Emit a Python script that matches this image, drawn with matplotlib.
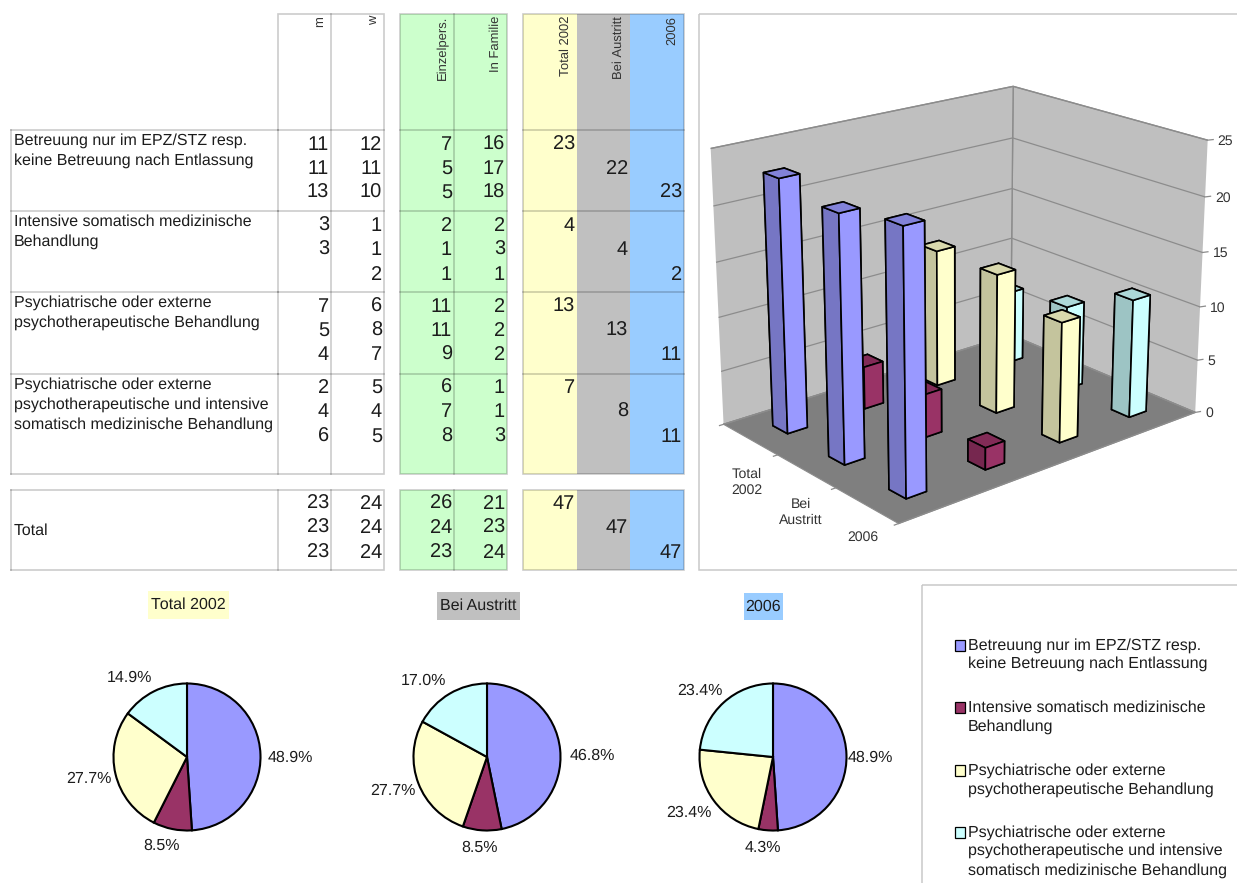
import matplotlib
matplotlib.use('Agg')
import matplotlib.pyplot as plt
from matplotlib.patches import Rectangle
from mpl_toolkits.mplot3d import proj3d
import numpy as np

plt.rcParams['font.family'] = ['Liberation Sans', 'DejaVu Sans']
plt.rcParams['grid.color'] = '#8c8c8c'
plt.rcParams['grid.linewidth'] = 0.9
plt.rcParams['text.hinting'] = 'none'
plt.rcParams['text.hinting_factor'] = 1

W, H = 1237, 883

# Daten
kategorien = ['Betreuung nur im EPZ/STZ resp.\nkeine Betreuung nach Entlassung',
              'Intensive somatisch medizinische\nBehandlung',
              'Psychiatrische oder externe\npsychotherapeutische Behandlung',
              'Psychiatrische oder externe\npsychotherapeutische und intensive\nsomatisch medizinische Behandlung']
spalten = ['m', 'w', 'Einzelpers.', 'In Familie', 'Total 2002', 'Bei Austritt', '2006']
jahre = ['Total 2002', 'Bei Austritt', '2006']
jahre_achse = ['Total\n2002', 'Bei\nAustritt', '2006']

m_werte = [[11, 11, 13], [3, 3, None], [7, 5, 4], [2, 4, 6]]
w_werte = [[12, 11, 10], [1, 1, 2], [6, 8, 7], [5, 4, 5]]
einzel = [[7, 5, 5], [2, 1, 1], [11, 11, 9], [6, 7, 8]]
familie = [[16, 17, 18], [2, 3, 1], [2, 2, 2], [1, 1, 3]]
total_2002 = [23, 4, 13, 7]
bei_austritt = [22, 4, 13, 8]
jahr_2006 = [23, 2, 11, 11]

total_m = [23, 23, 23]
total_w = [24, 24, 24]
total_einzel = [26, 24, 23]
total_familie = [21, 23, 24]
total_jahre = [47, 47, 47]

farben = ['#9999ff', '#993366', '#ffffcc', '#ccffff']
z_ticks = [0, 5, 10, 15, 20, 25]

fig = plt.figure(figsize=(W / 100, H / 100), dpi=100, facecolor='white')

# Ebene in Pixeln fuer Tabelle und Legende
bg = fig.add_axes([0, 0, 1, 1], zorder=0)
bg.set_xlim(0, W)
bg.set_ylim(H, 0)
bg.axis('off')

row_y = [130, 211, 292, 374, 474]
tab_top = 14
tot_top, tot_bot = 490, 570
linie = '#c9c9c9'
text_farbe = '#1c1c1c'
num_fs = 14.5
lab_fs = 11.5


def block(x0, x1, fill):
    for y0, y1 in [(tab_top, row_y[-1]), (tot_top, tot_bot)]:
        bg.add_patch(Rectangle((x0, y0), x1 - x0, y1 - y0, fc=fill, ec='none'))


block(400, 507, '#ccffcc')
block(523, 577, '#ffffcc')
block(577, 630, '#c0c0c0')
block(630, 684, '#99ccff')


def rahmen(x0, x1, y0, y1):
    bg.add_patch(Rectangle((x0, y0), x1 - x0, y1 - y0, fc='none', ec='black', alpha=0.2, lw=1.2))


for x0, x1 in [(278, 384), (400, 507), (523, 684)]:
    rahmen(x0, x1, tab_top, row_y[-1])
    rahmen(x0, x1, tot_top, tot_bot)
    for y in row_y[:-1]:
        bg.plot([x0, x1], [y, y], color='black', alpha=0.2, lw=1.2)
for y in row_y[:-1] + [row_y[-1], tot_top, tot_bot]:
    bg.plot([11, 278], [y, y], color='black', alpha=0.2, lw=1.2)
for y0, y1 in [(row_y[0], row_y[-1]), (tot_top, tot_bot)]:
    bg.plot([11, 11], [y0, y1], color='black', alpha=0.2, lw=1.2)
for x, y0, y1 in [(331, tab_top, row_y[-1]), (331, tot_top, tot_bot),
                  (454, tab_top, row_y[-1]), (454, tot_top, tot_bot)]:
    bg.plot([x, x], [y0, y1], color='black', alpha=0.2, lw=1.2)

# Spaltenkoepfe
kopf_x = [320, 374, 443, 496, 566, 619, 672]
for x, s in zip(kopf_x, spalten):
    bg.text(x, 16, s, rotation=90, ha='center', va='top', fontsize=9.2, color='#333333')

# Zeilentexte
for y, s in zip(row_y[:-1], kategorien):
    bg.text(14, y + 3.5, s, ha='left', va='top', fontsize=lab_fs, color=text_farbe, linespacing=1.43)
bg.text(14, 531, 'Total', ha='left', va='center', fontsize=lab_fs, color=text_farbe)

zeilen_y = [[145, 169, 193], [226, 250, 275], [307, 331, 355], [388, 412, 437]]
tot_y = [504, 528, 553]


def zahl(x, y, v):
    if v is not None:
        bg.text(x, y, str(v), ha='right', va='center', fontsize=num_fs, color=text_farbe)


for i in range(4):
    for j in range(3):
        y = zeilen_y[i][j]
        zahl(329, y, m_werte[i][j])
        zahl(382, y, w_werte[i][j])
        zahl(452, y, einzel[i][j])
        zahl(505, y, familie[i][j])
    zahl(575, zeilen_y[i][0], total_2002[i])
    zahl(628, zeilen_y[i][1], bei_austritt[i])
    zahl(682, zeilen_y[i][2], jahr_2006[i])
for j in range(3):
    zahl(329, tot_y[j], total_m[j])
    zahl(382, tot_y[j], total_w[j])
    zahl(452, tot_y[j], total_einzel[j])
    zahl(505, tot_y[j], total_familie[j])
zahl(575, tot_y[0], total_jahre[0])
zahl(628, tot_y[1], total_jahre[1])
zahl(682, tot_y[2], total_jahre[2])

# Rahmen Diagramm und Legende
bg.add_patch(Rectangle((699, 14), 560, 556, fc='none', ec=linie, lw=1.1))
bg.add_patch(Rectangle((922, 585), 340, 320, fc='none', ec=linie, lw=1.1))

# Legende
leg_y = [[646, 664], [708, 727], [771, 790], [833, 851, 871]]
leg_text = [k.split('\n') for k in kategorien]
for farbe, ys, zeilen in zip(farben, leg_y, leg_text):
    bg.add_patch(Rectangle((955, ys[0] - 6), 10, 11, fc=farbe, ec='black', lw=0.9))
    for y, s in zip(ys, zeilen):
        bg.text(968, y, s, ha='left', va='center', fontsize=lab_fs, color=text_farbe)

# Titel ueber den Kreisen
titel_box = [(148, 591, 81, 28, '#ffffcc'), (437, 592, 83, 28, '#c0c0c0'), (744, 593, 39, 27, '#99ccff')]
for (x, y, b, h, f), s in zip(titel_box, jahre):
    bg.add_patch(Rectangle((x, y), b, h, fc=f, ec='none'))
    bg.text(x + b / 2, y + h / 2, s, ha='center', va='center', fontsize=lab_fs, color=text_farbe)

# Kreisdiagramme
pie_werte = [total_2002, bei_austritt, jahr_2006]
pie_cx = [187, 487, 773]
pie_cy = 757
r = 73.5
# Verschiebung der Prozenttexte in Pixeln
pct_versatz = [[(5, 4), (-6, -8), (-2, -1), (-13, 9)],
               [(7, 9), (-1, -8), (-2, -2), (-13, 8)],
               [(-1, 4), (-4, -8), (-5, -3), (-7, 7)]]
for cx, werte, versatz in zip(pie_cx, pie_werte, pct_versatz):
    a = fig.add_axes([(cx - 2 * r) / W, 1 - (pie_cy + 2 * r) / H, 4 * r / W, 4 * r / H], zorder=2)
    keile, _, pct = a.pie(werte, colors=farben, startangle=90, counterclock=False, radius=1,
                          autopct='%.1f%%', pctdistance=1.34,
                          wedgeprops=dict(edgecolor='black', linewidth=1.5),
                          textprops=dict(fontsize=lab_fs, color=text_farbe))
    for t, (dx, dy) in zip(pct, versatz):
        px, py = t.get_position()
        t.set_position((px + dx / r, py - dy / r))
    a.set_xlim(-2, 2)
    a.set_ylim(-2, 2)
    a.patch.set_alpha(0)

# 3D Saeulen
mitte_x, mitte_y, seite = 953, 293, 600
ax3 = fig.add_axes([(mitte_x - seite / 2) / W, 1 - (mitte_y + seite / 2) / H, seite / W, seite / H],
                   projection='3d', computed_zorder=False, zorder=1)
ax3.patch.set_alpha(0)
ax3.set_proj_type('persp', focal_length=0.58)
ax3.view_init(elev=19.8, azim=-130)
ax3.set_box_aspect((1.30, 0.96, 0.97), zoom=0.915)
ax3.set_xlim(0, 4)
ax3.set_ylim(0, 3)
ax3.set_zlim(0, 25)
ax3.set_xticks([])
ax3.set_yticks([])
ax3.set_zticks(z_ticks)
ax3.zaxis.set_ticklabels([])
ax3.zaxis.set_ticks_position('none')
ax3.xaxis.set_pane_color('#bfbfbf')
ax3.yaxis.set_pane_color('#bfbfbf')
ax3.zaxis.set_pane_color('#7f7f7f')
for achse in [ax3.xaxis, ax3.yaxis, ax3.zaxis]:
    achse.pane.set_edgecolor('#8c8c8c')
    achse.line.set_color('#8c8c8c')
    achse.label.set_visible(False)
    achse.offsetText.set_visible(False)
ax3.grid(True)

serien = [[total_2002[k], bei_austritt[k], jahr_2006[k]] for k in range(4)]
breite_x, breite_y = 0.25, 0.27


def abdunkeln(c, f):
    rgb = np.array(matplotlib.colors.to_rgb(c))
    return tuple(rgb * f)


reihen = []
for s in range(4):
    for c in range(3):
        reihen.append((s, c))
# von hinten nach vorne zeichnen
reihen.sort(key=lambda t: -(t[0] * 0.64 + (2 - t[1]) * 0.77))
for n, (s, c) in enumerate(reihen):
    f = farben[s]
    flaechen = [abdunkeln(f, 0.6), abdunkeln(f, 0.85), f, f, abdunkeln(f, 0.77), abdunkeln(f, 0.77)]
    ax3.bar3d(s + 0.5 - breite_x / 2, (2 - c) + 0.5 - breite_y / 2, 0, breite_x, breite_y, serien[s][c],
              color=flaechen, edgecolor='black', linewidth=1.2, shade=False, zorder=10 + n)

for z in z_ticks:
    ax3.plot([4, 4.06], [0, -0.02], [z, z], color='#8c8c8c', lw=0.9, zorder=5)
for c in range(4):
    ax3.plot([0, -0.05], [c, c], [0, 0], color='#8c8c8c', lw=0.9, zorder=5)

# Achsentexte als normale Texte auf die projizierten Punkte setzen
fig.canvas.draw()


def auf_bild(x, y, z):
    px, py, _ = proj3d.proj_transform(x, y, z, ax3.get_proj())
    return ax3.transData.transform((px, py))


for z in z_ticks:
    bx, by = auf_bild(4, 0, z)
    fig.text((bx + 10) / W, (by - 1) / H, str(z), ha='left', va='center', fontsize=10, color='#333333')

achsen_versatz = [(-3, 43), (-5, 41), (-4, 32)]
for c, s in enumerate(jahre_achse):
    bx, by = auf_bild(0, (2 - c) + 0.5, 0)
    dx, dy = achsen_versatz[c]
    fig.text((bx + dx) / W, (by - dy) / H, s, ha='center', va='center', fontsize=10.4, color='#333333',
             multialignment='center', linespacing=1.25)

fig.savefig('out.png', dpi=100)
